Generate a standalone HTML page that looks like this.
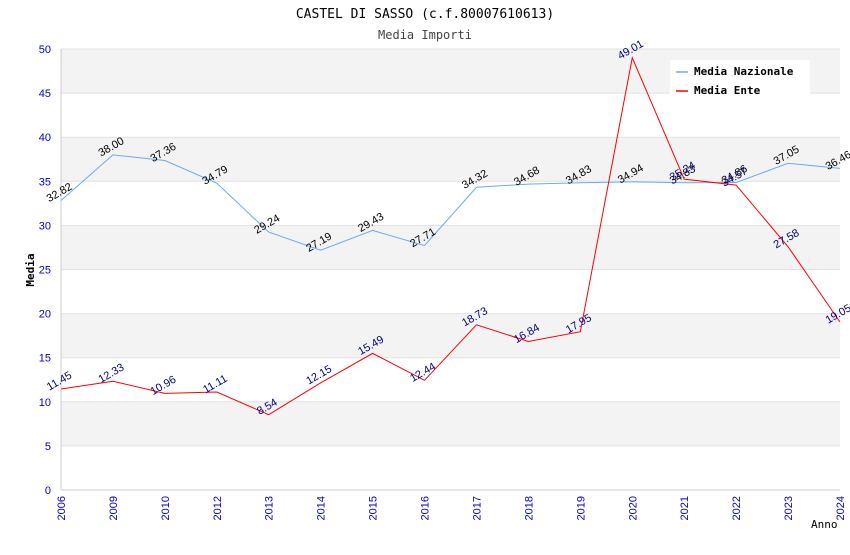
<!DOCTYPE html>
<html><head><meta charset="utf-8"><style>
body{margin:0;background:#fff;}
svg{font-family:"DejaVu Sans Mono","Liberation Mono",monospace;}
.s{font-family:"Liberation Sans",sans-serif;}
</style></head><body>
<svg id="chart" width="850" height="550">
<text x="425" y="18" text-anchor="middle" font-size="13" fill="#000">CASTEL DI SASSO (c.f.80007610613)</text>
<text x="425" y="39" text-anchor="middle" font-size="12" fill="#444">Media Importi</text>
<text transform="translate(34,270) rotate(-90)" text-anchor="middle" font-size="11" font-weight="bold" fill="#000">Media</text>
<text x="811" y="528" font-size="11" fill="#000">Anno</text>
<g id="grid"></g><g id="axes"></g><g id="series"></g>
<g>
<rect x="670" y="60" width="140" height="36" fill="#fff"/>
<line x1="676" y1="72" x2="688" y2="72" stroke="#6aaaf0" stroke-width="1.5"/>
<text x="694" y="75" font-size="11" font-weight="bold">Media Nazionale</text>
<line x1="676" y1="91" x2="688" y2="91" stroke="#ff0000" stroke-width="1.5"/>
<text x="694" y="94" font-size="11" font-weight="bold">Media Ente</text>
</g>
</svg>
<script>
const categories=["2006","2009","2010","2012","2013","2014","2015","2016","2017","2018","2019","2020","2021","2022","2023","2024"];
const nazionale=[32.82,38.00,37.36,34.79,29.24,27.19,29.43,27.71,34.32,34.68,34.83,34.94,34.83,34.86,37.05,36.46];
const ente=[11.45,12.33,10.96,11.11,8.54,12.15,15.49,12.44,18.73,16.84,17.95,49.01,35.24,34.57,27.58,19.05];
const yTicks=[0,5,10,15,20,25,30,35,40,45,50];
const NS="http://www.w3.org/2000/svg";
const L=61,R=840,T=49,B=490;
const x=i=>L+i*(R-L)/(categories.length-1);
const y=v=>B-(v/50)*(B-T);
function mk(tag,attrs,parent){const e=document.createElementNS(NS,tag);for(const k in attrs)e.setAttribute(k,attrs[k]);parent.appendChild(e);return e;}
const grid=document.getElementById('grid'),axes=document.getElementById('axes'),series=document.getElementById('series');
for(let i=0;i<yTicks.length-1;i++){
  if(i%2==1){const r=mk('rect',{x:L,y:y(yTicks[i+1]),width:R-L,height:y(yTicks[i])-y(yTicks[i+1]),fill:'#f3f3f3'},grid);
  
  }
}
yTicks.forEach(v=>{
  const l=mk('line',{x1:L,x2:R,y1:y(v),y2:y(v),stroke:'#e2e2e2'},grid);
  
  
  const t=mk('text',{x:L-10,y:y(v)+4,'text-anchor':'end','font-size':11,fill:'#0000cc','class':'s'},axes);
  t.textContent=v;
  
  
});
mk('line',{x1:L,x2:L,y1:T,y2:B,stroke:'#ccc'},axes);
mk('line',{x1:L,x2:R,y1:B,y2:B,stroke:'#ccc'},axes);
categories.forEach((c,i)=>{
  const t=mk('text',{transform:`translate(${x(i)+4},${B+6}) rotate(-90)`,'text-anchor':'end','font-size':11,fill:'#0000cc','class':'s'},axes);
  t.textContent=c;
  
  
});
function draw(vals,color,lblColor,name){
  const p=mk('polyline',{points:vals.map((v,i)=>x(i)+','+y(v)).join(' '),fill:'none',stroke:color,'stroke-width':1},series);
  
  
  vals.forEach((v,i)=>{
    const t=mk('text',{transform:`translate(${x(i)},${y(v)-5}) rotate(-30)`,'text-anchor':'middle','font-size':11,fill:lblColor,'class':'s'},series);
    t.textContent=v.toFixed(2);
    
    
  });
}
draw(nazionale,'#6aaaf0','#000','nazionale');
draw(ente,'#ff0000','#000080','ente');
</script>
</body></html>
